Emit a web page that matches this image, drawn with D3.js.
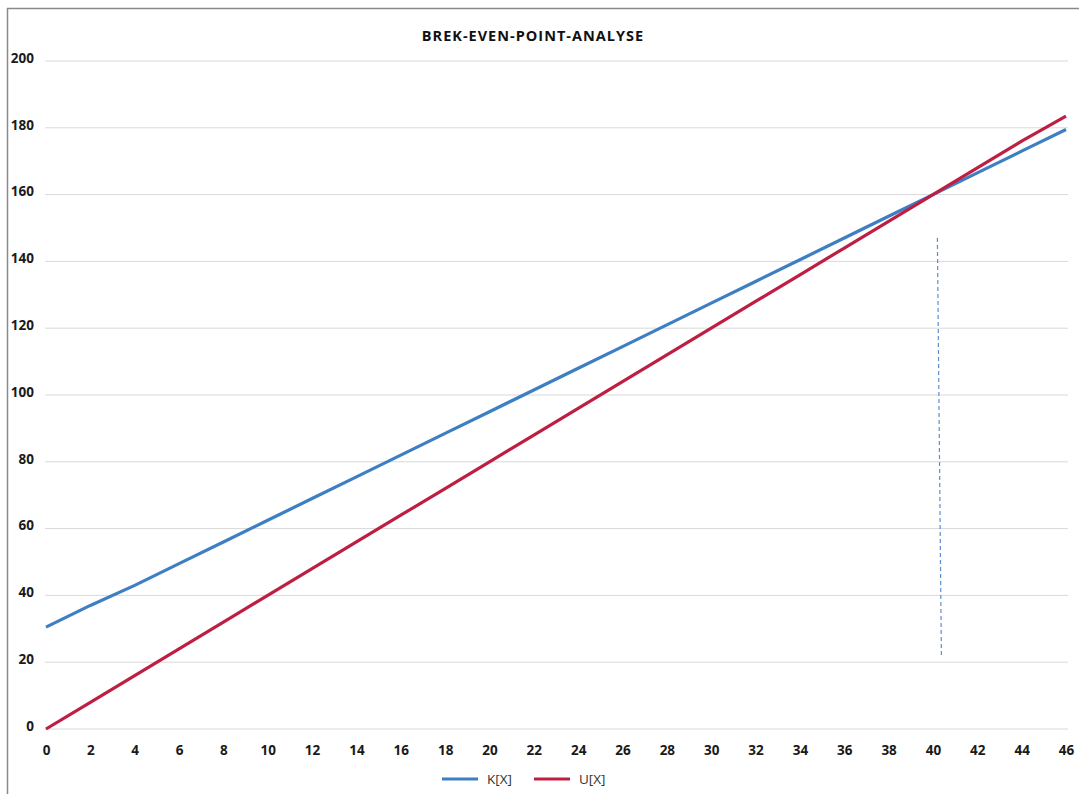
<!DOCTYPE html>
<html><head><meta charset="utf-8">
<script src="https://cdn.jsdelivr.net/npm/d3@7"></script>
<style>
body{margin:0;background:#fff;}
text{font-family:"Open Sans",sans-serif;}
</style></head>
<body><svg id="c" width="1079" height="794"></svg>
<script>
const xValues = [0,2,4,6,8,10,12,14,16,18,20,22,24,26,28,30,32,34,36,38,40,42,44,46];
const kValues = [30.5,37,43,49.5,56,62.5,69,75.5,82,88.5,95,101.5,108,114.5,121,127.5,134,140.5,147,153.5,160,166.5,173,179.5];
const uValues = [0,8,16,24,32,40,48,56,64,72,80,88,96,104,112,120,128,136,144,152,160,168,176,183.5];
const yTicks = [0,20,40,60,80,100,120,140,160,180,200];
const seriesNames = ["K[X]","U[X]"];
const breakEven = [{x:40.2,y:147},{x:40.38,y:22}];
const title = "BREK-EVEN-POINT-ANALYSE";

const svg = d3.select("#c");
const colors = ["#3d7fc2","#be1e42"];
const x = d3.scaleLinear().domain([0,46]).range([46,1066]);
const y = d3.scaleLinear().domain([0,200]).range([729,61]);

// frame
svg.append("line").attr("x1",7).attr("x2",1079).attr("y1",8.5).attr("y2",8.5).attr("stroke","#8a8a8a").attr("stroke-width",1.5);
svg.append("line").attr("x1",7.5).attr("x2",7.5).attr("y1",8).attr("y2",794).attr("stroke","#8a8a8a").attr("stroke-width",1.5);

// gridlines
svg.append("g").selectAll("line").data(yTicks).join("line")
  .attr("x1",45).attr("x2",1068).attr("y1",d=>y(d)).attr("y2",d=>y(d))
  .attr("stroke","#d9d9d9").attr("stroke-width",1);

// y axis labels
const yAxis = d3.axisLeft(y).tickValues(yTicks).tickSize(0).tickPadding(0);
const gy = svg.append("g").attr("transform","translate(34,-3)").call(yAxis);
gy.select(".domain").remove();
gy.selectAll("text").attr("font-size",13.5).attr("font-weight",700).attr("fill","#1a1a1a").attr("dy","0.32em");

// x axis labels
const xAxis = d3.axisBottom(x).tickValues(xValues).tickSize(0).tickPadding(0);
const gx = svg.append("g").attr("transform","translate(0,745)").call(xAxis);
gx.select(".domain").remove();
gx.selectAll("text").attr("font-size",13.5).attr("font-weight",700).attr("fill","#1a1a1a").attr("dy","0.71em");

// title
svg.append("text").attr("x",533).attr("y",41).attr("text-anchor","middle")
  .attr("font-size",14.5).attr("font-weight",700).attr("letter-spacing",1).attr("fill","#111").text(title);

// break-even dashed line
svg.append("line").attr("x1",x(breakEven[0].x)).attr("y1",y(breakEven[0].y))
  .attr("x2",x(breakEven[1].x)).attr("y2",y(breakEven[1].y))
  .attr("stroke","#5b8fd0").attr("stroke-width",1.2).attr("stroke-dasharray","4,3");

// lines
const line = d3.line().x(d=>x(d[0])).y(d=>y(d[1]));
[kValues,uValues].forEach((vals,i)=>{
  svg.append("path").datum(xValues.map((xv,j)=>[xv,vals[j]]))
    .attr("d",line).attr("fill","none").attr("stroke",colors[i]).attr("stroke-width",3.2)
    .attr("stroke-linejoin","round");
});

// legend
const legX = [442,534];
seriesNames.forEach((n,i)=>{
  svg.append("line").attr("x1",legX[i]).attr("x2",legX[i]+36).attr("y1",779).attr("y2",779)
    .attr("stroke",colors[i]).attr("stroke-width",3);
  svg.append("text").attr("x",legX[i]+45).attr("y",784).attr("font-size",13.5).attr("fill","#333").text(n);
});
</script></body></html>
